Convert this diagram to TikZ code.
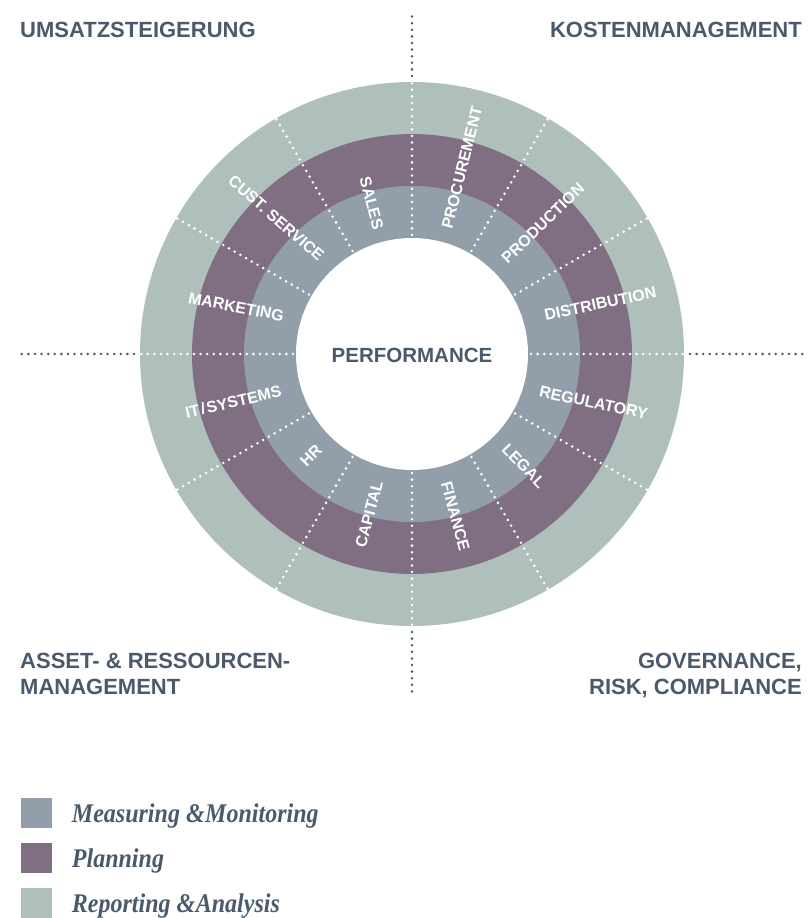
\documentclass[tikz,border=0pt]{standalone}
\usepackage{fontspec}
\setmainfont{Liberation Sans}
\newfontfamily\legfont{Liberation Serif}
\definecolor{ringB}{HTML}{929FAB}
\definecolor{ringP}{HTML}{806F83}
\definecolor{ringG}{HTML}{AFC0BC}
\definecolor{slate}{HTML}{4A5A6B}
\tikzset{
 seglabel/.style={text=white, font=\bfseries\fontsize{16}{16}\selectfont, inner sep=0pt},
 corner/.style={text=slate, font=\bfseries\fontsize{22}{22}\selectfont, inner sep=0pt},
 wdots/.style={white, line width=2.8pt, line cap=round, dash pattern=on 0pt off 6.6pt},
 ddots/.style={slate, line width=2.8pt, line cap=round, dash pattern=on 0pt off 6.6pt},
 legbox/.style={minimum width=31pt, minimum height=30pt, inner sep=0pt},
 legtext/.style={text=slate, inner sep=0pt, anchor=base west, font=\legfont\bfseries\itshape\fontsize{27}{27}\selectfont},
}
\begin{document}
\begin{tikzpicture}[x=1pt,y=1pt]
\useasboundingbox (-412,-564) rectangle (396,354);
% rings
\fill[ringG] (0,0) circle (272);
\fill[ringP] (0,0) circle (220);
\fill[ringB] (0,0) circle (168);
\fill[white] (0,0) circle (116);
% radial dotted separators
\foreach \a in {0,30,...,330} \draw[wdots] (\a:119) -- (\a:272);
% axis extensions
\coordinate (N) at (0,339);
\coordinate (S) at (0,-339);
\coordinate (W) at (-391,0);
\coordinate (E) at (393,0);
\draw[ddots] (90:278) -- (N);
\draw[ddots] (-90:278) -- (S);
\draw[ddots] (180:278) -- (W);
\draw[ddots] (0:278) -- (E);
% segment labels
\node[seglabel, rotate=-75] (sales) at (105:156) {SALES};
\node[seglabel, rotate=76] (proc) at (75:193) {PROCUREMENT};
\node[seglabel, rotate=44] (prod) at (45:185) {PRODUCTION};
\node[seglabel, rotate=12] (dist) at (15:195) {DISTRIBUTION};
\node[seglabel, rotate=-12] (reg) at (-15:188) {REGULATORY};
\node[seglabel, rotate=-46] (legal) at (-45:158) {LEGAL};
\node[seglabel, rotate=-75] (fin) at (-75:168) {FINANCE};
\node[seglabel, rotate=75] (capi) at (255:166) {CAPITAL};
\node[seglabel, rotate=45] (hr) at (225:143) {HR};
\node[seglabel, rotate=13] (its) at (195:185) {IT\kern1.5pt/\kern1.5pt SYSTEMS};
\node[seglabel, rotate=-11] (mkt) at (165:182) {MARKETING};
\node[seglabel, rotate=-41] (cust) at (135:192) {CUST. SERVICE};
% centre
\node[text=slate, font=\bfseries\fontsize{20.5}{20.5}\selectfont, inner sep=0pt] (perf) at (0,-1.5) {PERFORMANCE};
% corner labels
\node[corner, anchor=base west] (umsatz) at (-392,316) {UMSATZSTEIGERUNG};
\node[corner, anchor=base east] (kosten) at (390,316) {KOSTENMANAGEMENT};
\node[corner, anchor=base west] (asset1) at (-392,-314) {ASSET- \& RESSOURCEN-};
\node[corner, anchor=base west] (asset2) at (-392,-340) {MANAGEMENT};
\node[corner, anchor=base east] (gov1) at (390,-314) {GOVERNANCE,};
\node[corner, anchor=base east] (gov2) at (390,-340) {RISK, COMPLIANCE};
% legend
\node[legbox, fill=ringB] (k1) at (-375.5,-458.5) {};
\node[legbox, fill=ringP] (k2) at (-375.5,-504.3) {};
\node[legbox, fill=ringG] (k3) at (-375.5,-549.3) {};
\node[legtext] (t1) at (-340.3,-468) {\scalebox{0.89}[1]{Measuring \&\kern0.5pt Monitoring}};
\node[legtext] (t2) at (-340.3,-513.3) {\scalebox{0.89}[1]{Planning}};
\node[legtext] (t3) at (-340.3,-558.7) {\scalebox{0.89}[1]{Reporting \&\kern0.5pt Analysis}};
\end{tikzpicture}
\end{document}
